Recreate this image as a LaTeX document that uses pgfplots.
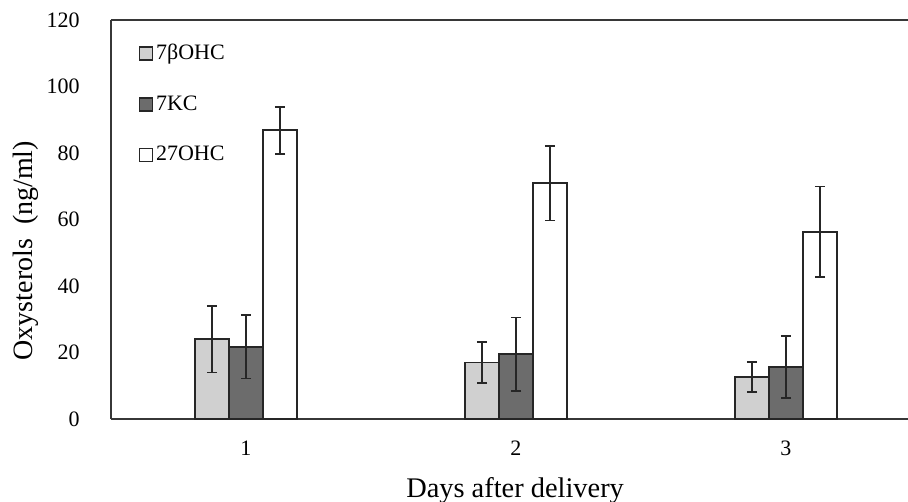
\documentclass[border=0pt]{standalone}
\usepackage{pgfplots}
\pgfplotsset{compat=1.18}
\usepackage{fontspec}
\setmainfont{Liberation Serif}

\definecolor{lightbar}{RGB}{208,208,208}
\definecolor{darkbar}{RGB}{108,108,108}
\definecolor{axisgray}{RGB}{55,55,55}

\pgfplotsset{
  sqlegend/.style={legend image code/.code={%
      \draw[##1, line width=0.7pt] (0pt,-3.2pt) rectangle (6.4pt,3.2pt);}},
  errs/.style={
    error bars/.cd, y dir=both, y explicit,
    error bar style={line width=0.9pt, black!85},
    error mark options={rotate=90, mark size=2.6pt, line width=0.9pt, black!85}},
}

\begin{document}
\begin{tikzpicture}
\begin{axis}[
  scale only axis, width=398.5pt, height=199.5pt,
  xmin=0.5, xmax=3.452, ymin=0, ymax=120,
  enlargelimits=false,
  axis x line=box, axis y line=left,
  axis line style={-, line width=0.9pt, axisgray},
  ybar=0pt, bar width=17pt,
  every axis plot post/.append style={sqlegend},
  xtick={1,2,3}, ytick={0,20,...,120},
  major tick length=0pt,
  tick label style={font=\fontsize{11}{13}\selectfont},
  /pgf/number format/assume math mode=true,
  xticklabel style={anchor=base, yshift=-18pt},
  yticklabel style={anchor=east, inner sep=0pt, xshift=-15.5pt},
  xlabel={Days after delivery},
  xlabel style={at={(axis description cs:0.507,-0.1955)}, anchor=base,
    font=\fontsize{14.2}{16}\selectfont},
  ylabel={Oxysterols~~(ng/ml)},
  ylabel style={at={(axis description cs:-0.0979,0.422)}, anchor=base,
    font=\fontsize{14}{16}\selectfont},
  legend style={at={(axis description cs:0.027,0.958)}, anchor=north west,
    draw=none, fill=none, font=\fontsize{11}{12}\selectfont,
    row sep=13.5pt, nodes={inner sep=1.5pt}},
  legend cell align=left,
]

\addplot[fill=lightbar, draw=black!85, line width=0.9pt, errs]
  coordinates {(1,24.0) +- (0,10.0) (2,17.0) +- (0,6.1) (3,12.7) +- (0,4.5)};
\addplot[fill=darkbar, draw=black!85, line width=0.9pt, errs]
  coordinates {(1,21.7) +- (0,9.5) (2,19.5) +- (0,11.0) (3,15.7) +- (0,9.3)};
\addplot[fill=white, draw=black!85, line width=0.9pt, errs]
  coordinates {(1,86.8) +- (0,7.0) (2,70.9) +- (0,11.2) (3,56.3) +- (0,13.6)};
\legend{7βOHC, 7KC, 27OHC}

\end{axis}
\pgfresetboundingbox
\path (-55.5pt,-41.5pt) rectangle (398.5pt,209.5pt);
\end{tikzpicture}
\end{document}
